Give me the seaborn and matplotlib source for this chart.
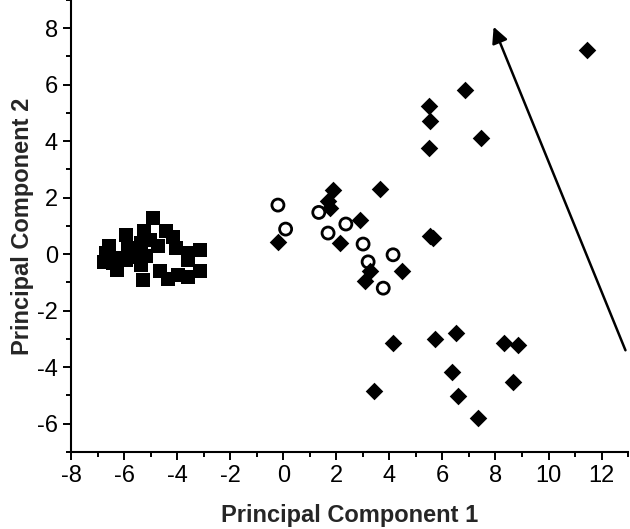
import numpy as np
import pandas as pd
import matplotlib
matplotlib.use('Agg')
import matplotlib.pyplot as plt
import seaborn as sns

# -- data -----------------------------------------------------------------
sq_x = [-4.91, -5.92, -5.23, -4.41, -4.17, -4.03, -6.55, -6.67, -6.74, -6.25,
        -6.17, -5.86, -5.68, -5.35, -5.16, -5.35, -4.72, -5.04, -3.59, -3.15,
        -3.59, -5.29, -4.66, -4.36, -3.97, -3.59, -3.15, -5.92, -6.43]
sq_y = [1.28, 0.69, 0.81, 0.81, 0.62, 0.22, 0.28, 0.05, -0.26, -0.55,
        -0.12, 0.22, -0.09, 0.40, -0.08, -0.37, 0.28, 0.51, 0.04, 0.16,
        -0.20, -0.90, -0.61, -0.87, -0.73, -0.80, -0.61, -0.20, -0.30]

circ_x = [-0.20, 0.09, 1.34, 2.36, 1.69, 3.01, 3.20, 4.14, 3.77]
circ_y = [1.74, 0.89, 1.48, 1.07, 0.75, 0.36, -0.27, -0.02, -1.20]

dia_x = [-0.20, 1.88, 1.69, 1.75, 2.89, 2.13, 3.64, 3.26, 3.08, 4.46,
         5.55, 5.65, 5.50, 5.55, 5.50, 6.86, 7.44, 11.46,
         4.14, 5.72, 6.51, 8.33, 8.86, 6.35, 8.67, 3.42, 6.57, 7.35]
dia_y = [0.45, 2.29, 1.90, 1.62, 1.22, 0.40, 2.32, -0.60, -0.96, -0.59,
         0.66, 0.56, 5.25, 4.72, 3.75, 5.80, 4.13, 7.23,
         -3.15, -3.00, -2.79, -3.15, -3.21, -4.18, -4.51, -4.83, -5.01, -5.79]

arrow_start = (12.9, -3.4)
arrow_end = (7.93, 8.05)

squares = pd.DataFrame({'pc1': sq_x, 'pc2': sq_y})
circles = pd.DataFrame({'pc1': circ_x, 'pc2': circ_y})
diamonds = pd.DataFrame({'pc1': dia_x, 'pc2': dia_y})

# -- style ----------------------------------------------------------------
sns.set_style('ticks')
plt.rcParams['font.family'] = ['Liberation Sans', 'DejaVu Sans']
plt.rcParams['axes.unicode_minus'] = False

fig = plt.figure(figsize=(6.3, 5.29), dpi=100)
ax = fig.add_axes([0.1127, 0.1456, 0.8843, 0.8544])

sns.scatterplot(data=squares, x='pc1', y='pc2', marker='s', s=110,
                color='black', edgecolor='black', linewidth=0, ax=ax, zorder=3)
sns.scatterplot(data=diamonds, x='pc1', y='pc2', marker='D', s=80,
                color='black', edgecolor='black', linewidth=0, ax=ax, zorder=3)
sns.scatterplot(data=circles, x='pc1', y='pc2', marker='o', s=75,
                color='black', edgecolor='black', linewidth=2.0, ax=ax, zorder=4)
ax.collections[-1].set_facecolor('none')

ax.annotate('', xy=arrow_end, xytext=arrow_start,
            arrowprops=dict(arrowstyle='-|>', color='black', lw=1.8,
                            mutation_scale=24, shrinkA=0, shrinkB=0))

ax.set_xlim(-8, 13)
ax.set_ylim(-7, 9)
ax.set_xticks(np.arange(-8, 13, 2))
ax.set_yticks(np.arange(-6, 9, 2))
ax.set_xticks(np.arange(-8, 14, 1), minor=True)
ax.set_yticks(np.arange(-7, 10, 1), minor=True)
ax.tick_params(which='major', direction='out', length=6, width=1.4,
               labelsize=17, color='black', labelcolor='black')
ax.tick_params(which='minor', direction='out', length=3.5, width=1.4,
               color='black')

ax.set_xlabel('Principal Component 1', fontsize=17, fontweight='bold', labelpad=12)
ax.set_ylabel('Principal Component 2', fontsize=17, fontweight='bold', labelpad=2)

sns.despine(ax=ax)
for side in ['left', 'bottom']:
    ax.spines[side].set_linewidth(1.5)
    ax.spines[side].set_color('black')

plt.savefig('out.png', dpi=100)
